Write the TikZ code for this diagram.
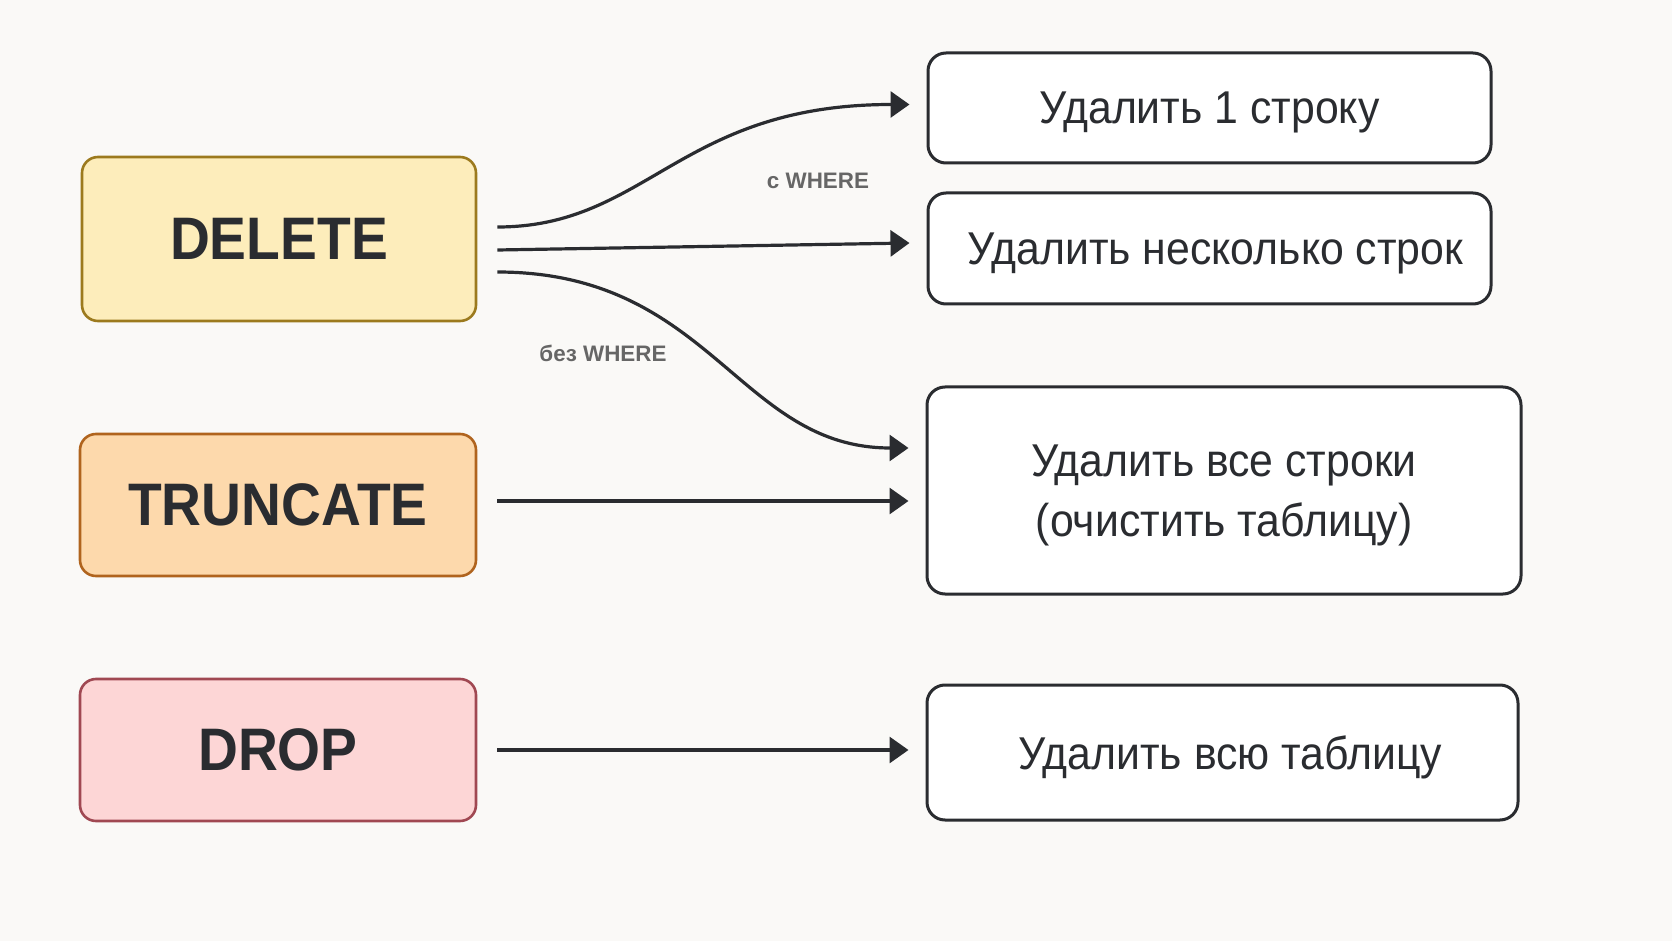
\documentclass[tikz,border=0pt]{standalone}
\usepackage{fontspec}
\setmainfont{Liberation Sans}
\newfontfamily\boldfont[FakeStretch=0.92]{Liberation Sans}
\newfontfamily\narrowfont[FakeStretch=0.93]{Liberation Sans}
\usetikzlibrary{arrows.meta,calc}
\definecolor{bgc}{HTML}{FAF9F7}
\definecolor{ink}{HTML}{2A2C30}
\definecolor{delfill}{HTML}{FDEDBB}
\definecolor{deldraw}{HTML}{9C7A1E}
\definecolor{trfill}{HTML}{FDD9AC}
\definecolor{trdraw}{HTML}{B0641E}
\definecolor{drfill}{HTML}{FDD6D6}
\definecolor{drdraw}{HTML}{A04852}
\definecolor{lblc}{HTML}{666666}
\tikzset{
  cmdbox/.style={draw, line width=1.3pt, rounded corners=8pt, align=center,
    font=\boldfont\bfseries\fontsize{30}{36}\selectfont, text=ink},
  resbox/.style={draw=ink, fill=white, line width=1.5pt, rounded corners=9pt, align=center,
    font=\narrowfont\fontsize{23}{30}\selectfont, text=ink, text depth=0pt},
  conn/.style={draw=ink, line width=1.6pt, -{Triangle[length=9.5pt,width=13pt]}},
  lbl/.style={font=\bfseries\fontsize{11.2}{13}\selectfont, text=lblc}
}
\begin{document}
\begin{tikzpicture}[x=0.5pt,y=-0.5pt]
\fill[bgc] (0,0) rectangle (1672,941);
\useasboundingbox (0,0) rectangle (1672,941);

\node[cmdbox, fill=delfill, draw=deldraw, minimum width=197pt, minimum height=82pt] (del) at (279,239) {DELETE};
\node[cmdbox, fill=trfill, draw=trdraw, minimum width=198pt, minimum height=71pt] (tru) at (278,505) {TRUNCATE};
\node[cmdbox, fill=drfill, draw=drdraw, minimum width=198pt, minimum height=71pt] (drp) at (278,750) {DROP};

\node[resbox, minimum width=281.5pt, minimum height=55pt] (r1) at (1209.5,108) {Удалить 1 строку};
\node[resbox, minimum width=281.5pt, minimum height=55.5pt] (r2) at (1209.5,248.5) {\hspace*{6pt}Удалить несколько строк};
\node[resbox, minimum width=297pt, minimum height=103.5pt] (r3) at (1224,490.5) {Удалить все строки\\(очистить таблицу)};
\node[resbox, minimum width=295.5pt, minimum height=67.5pt] (r4) at (1222.5,752.5) {\hspace*{8pt}Удалить всю таблицу};

\coordinate (s1) at ($(del.east)+(20,-12)$);
\coordinate (s2) at ($(del.east)+(20,11)$);
\coordinate (s3) at ($(del.east)+(20,33)$);
\coordinate (e1) at ($(r1.west)+(-17,-3.5)$);
\coordinate (e2) at ($(r2.west)+(-17,-5.5)$);
\coordinate (e3) at ($(r3.west)+(-17,-42.5)$);
\coordinate (e4) at ($(r3.west)+(-17,10.5)$);

\draw[conn] (s1) .. controls ($(s1)+(150,0)$) and ($(e1)+(-230,0)$) .. (e1);
\draw[conn] (s2) -- (e2);
\draw[conn] (s3) .. controls ($(s3)+(214,0)$) and ($(e3)+(-170,0)$) .. (e3);
\draw[conn] ($(tru.east)+(20,-4)$) -- (e4);
\draw[conn] ($(drp.east)+(20,0)$) -- ($(r4.west)+(-17,-2.5)$);

\node[lbl] (l1) at (818,181) {с WHERE};
\node[lbl] (l2) at (603,353) {без WHERE};
\end{tikzpicture}
\end{document}
